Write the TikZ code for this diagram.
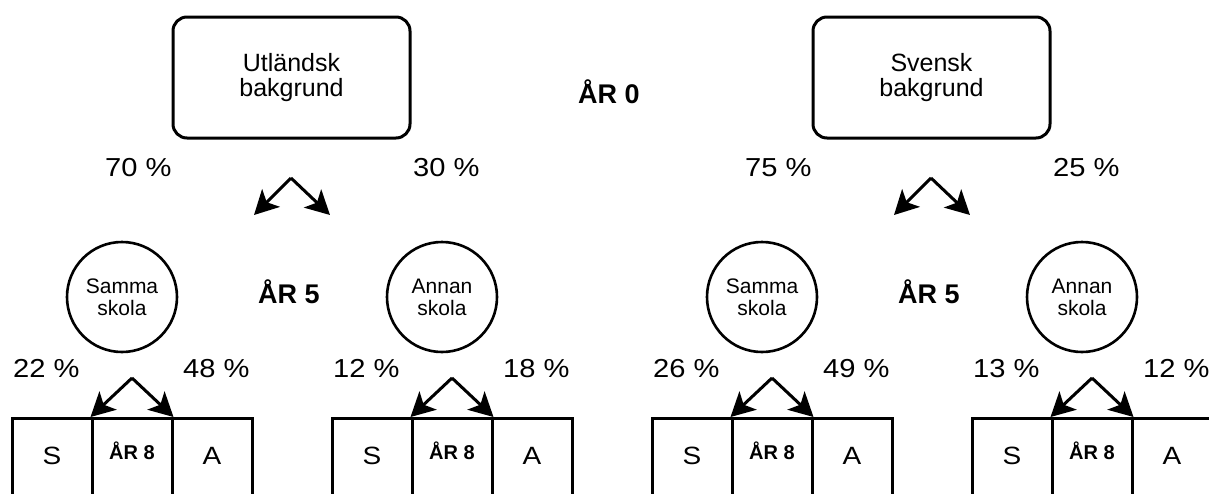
\documentclass[tikz,border=0pt]{standalone}
\usepackage{fontspec}
\setmainfont{Liberation Sans}
\newfontfamily\widefont[FakeStretch=1.12]{Liberation Sans}
\usetikzlibrary{arrows.meta}
\begin{document}
\begin{tikzpicture}[x=1pt,y=-1pt,
  topbox/.style={draw,line width=3pt,rounded corners=14pt,minimum width=237pt,minimum height=121pt,align=center,font=\fontsize{25}{25}\selectfont,inner sep=0pt},
  school/.style={draw,circle,line width=2.6pt,minimum size=110pt,align=center,font=\fontsize{21}{22}\selectfont,inner sep=0pt},
  cell/.style={draw,line width=3pt,minimum width=80pt,minimum height=100pt,anchor=north,inner sep=0pt,text height=18pt,text depth=26pt,font=\widefont\fontsize{25}{25}\selectfont},
  yearcell/.style={cell,text depth=36pt,font=\bfseries\fontsize{20}{20}\selectfont},
  pct/.style={anchor=base west,font=\widefont\fontsize{26}{26}\selectfont,inner sep=0pt},
  year/.style={anchor=base west,font=\bfseries\fontsize{27}{27}\selectfont,inner sep=0pt},
  arr/.style={line width=3pt,-{Stealth[length=24pt,width=25pt,inset=6pt]}}
]
\useasboundingbox (0,0) rectangle (1209,493);
\clip (0,0) rectangle (1209,493);
\fill[white] (0,0) rectangle (1209,493);

% top boxes
\node[topbox] (utl) at (291.5,77.5) {Utländsk\\bakgrund};
\node[topbox] (sve) at (931.5,77.5) {Svensk\\bakgrund};
\node[year] (ar0) at (578,103) {ÅR 0};

% top percentages
\node[pct] (p70) at (105,176) {70 \%};
\node[pct] (p30) at (413,176) {30 \%};
\node[pct] (p75) at (745,176) {75 \%};
\node[pct] (p25) at (1053,176) {25 \%};

% top arrows
\coordinate (ta) at (291,178);
\coordinate (tal) at (254,215);
\coordinate (tar) at (330,215);
\coordinate (tb) at (931,178);
\coordinate (tbl) at (894,215);
\coordinate (tbr) at (970,215);
\draw[arr] (ta) -- (tal);
\draw[arr] (ta) -- (tar);
\draw[arr] (tb) -- (tbl);
\draw[arr] (tb) -- (tbr);

% circles
\node[school] (c1) at (122,297) {Samma\\skola};
\node[school] (c2) at (442,297) {Annan\\skola};
\node[school] (c3) at (762,297) {Samma\\skola};
\node[school] (c4) at (1082,297) {Annan\\skola};
\node[year] (ar5a) at (258,303) {ÅR 5};
\node[year] (ar5b) at (898,303) {ÅR 5};

% bottom percentages
\node[pct] (q1) at (13,377) {22 \%};
\node[pct] (q2) at (183,377) {48 \%};
\node[pct] (q3) at (333,377) {12 \%};
\node[pct] (q4) at (503,377) {18 \%};
\node[pct] (q5) at (653,377) {26 \%};
\node[pct] (q6) at (823,377) {49 \%};
\node[pct] (q7) at (973,377) {13 \%};
\node[pct] (q8) at (1143,377) {12 \%};

% bottom cells and arrows
\foreach \g/\i in {12/1,332/2,652/3,972/4}{
  \node[cell] (s\i) at (\g+40,417) {S};
  \node[yearcell] (m\i) at (\g+120,417) {ÅR 8};
  \node[cell] (a\i) at (\g+200,417) {A};
  \coordinate (pk\i) at (\g+120,378);
  \draw[arr] (pk\i) -- (m\i.north west);
  \draw[arr] (pk\i) -- (m\i.north east);
}
\end{tikzpicture}
\end{document}
